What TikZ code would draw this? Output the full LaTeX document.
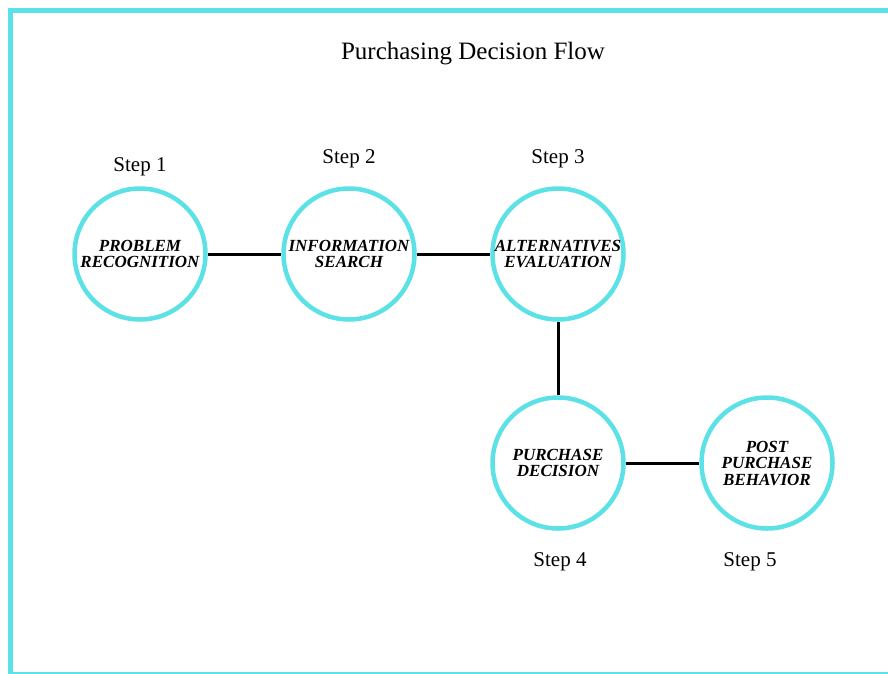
\documentclass[tikz,border=0pt]{standalone}
\usepackage{fontspec}
\setmainfont{Liberation Serif}
\usepackage{xcolor}
\usetikzlibrary{positioning}

\definecolor{ringcyan}{HTML}{5CE1E6}

\tikzset{
	stage/.style = {circle, draw = ringcyan, line width = 4.5pt, minimum size = 131pt, inner sep = 0pt,
	align = center, font = \bfseries\itshape\fontsize{17}{16.5}\selectfont},
	steplabel/.style = {font = \fontsize{21}{24}\selectfont}
}

\begin{document}
\begin{tikzpicture} [x = 1pt, y = -1pt, node distance = 209pt, on grid]
		% Canvas and frame
		\useasboundingbox (0,0) rectangle (888,673);
		\clip (0,0) rectangle (888,673);
		\draw [ringcyan, line width = 5pt] (10.5,10) rectangle (900,674);

		% Title
		\node (title) at (473,54) {\fontsize{25}{30}\selectfont Purchasing Decision Flow};

		% Start Node : the others are placed from this one
		\node (recog) [stage] at (140,254) {PROBLEM\\RECOGNITION};

		% Other Stages
		\node (search) [stage, right = of recog] {INFORMATION\\SEARCH};
		\node (evalu) [stage, right = of search] {ALTERNATIVES\\EVALUATION};
		\node (decis) [stage, below = 209pt of evalu] {PURCHASE\\DECISION};
		\node (post) [stage, right = of decis] {POST\\PURCHASE\\BEHAVIOR};

		% Step Labels
		\node (s1) [steplabel, above = 87pt of recog] {Step 1};
		\node (s2) [steplabel, above = 95pt of search] {Step 2};
		\node (s3) [steplabel, above = 95pt of evalu] {Step 3};
		\node (s4) [steplabel, below = 99pt of decis, xshift = 2pt] {Step 4};
		\node (s5) [steplabel, below = 99pt of post, xshift = -17pt] {Step 5};

		% Draw Connections
		\path [black, line width = 3pt]
		(recog) edge (search)
		(search) edge (evalu)
		(evalu) edge (decis)
		(decis) edge (post);
	\end{tikzpicture}
\end{document}
